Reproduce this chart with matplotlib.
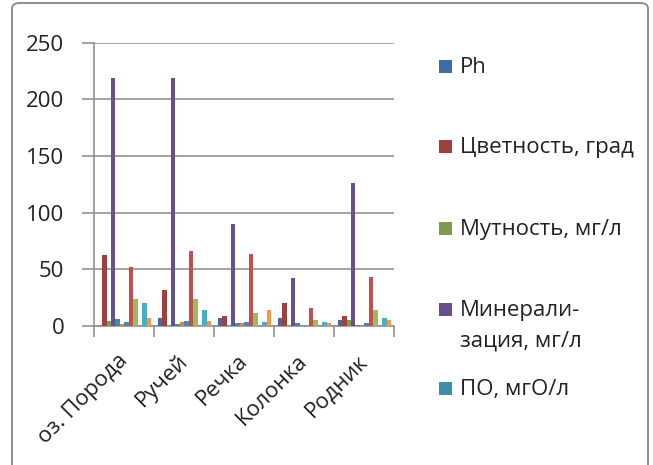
import numpy as np
import matplotlib
matplotlib.use("Agg")
import matplotlib.pyplot as plt
from matplotlib.patches import FancyBboxPatch, Rectangle

plt.rcParams["font.family"] = ["Open Sans", "DejaVu Sans"]

# ── data ──────────────────────────────────────────────────────────────────────
sites = ["оз. Порода", "Ручей", "Речка", "Колонка", "Родник"]

ph          = [0.0, 7.0, 6.8, 7.0, 5.6]
color_deg   = [63, 32, 9.1, 20.6, 8.8]
turbidity   = [4.7, 1.2, 0.0, 0.0, 5.6]
mineral     = [219, 219, 90, 42, 126]
po          = [5.9, 2.0, 2.4, 2.6, 0.6]
series_6    = [2.0, 3.2, 2.4, 0.0, 0.6]
series_7    = [3.5, 4.7, 3.5, 0.0, 2.4]
series_8    = [52, 66, 63.5, 16, 43]
series_9    = [24, 24, 11.5, 5.6, 13.8]
series_10   = [0, 0, 0, 0, 0]
series_11   = [20.5, 13.8, 3.5, 3.5, 6.8]
series_12   = [7.0, 4.7, 13.8, 2.4, 5.6]

legend_labels = ["Ph", "Цветность, град", "Мутность, мг/л",
                 "Минерали-\nзация, мг/л", "ПО, мгО/л"]

series = [ph, color_deg, turbidity, mineral, po, series_6,
          series_7, series_8, series_9, series_10, series_11, series_12]
colors = ["#3d6ba6", "#a13f3e", "#7e9c4b", "#6a4f8d", "#3c8fa8", "#d9823f",
          "#4f81bd", "#c0504d", "#9bbb59", "#8064a2", "#4bacc6", "#f79646"]

# ── figure ────────────────────────────────────────────────────────────────────
W, H = 653, 465
fig = plt.figure(figsize=(W / 100, H / 100), dpi=100)

def fx(px): return px / W
def fy(py): return 1 - py / H

# chart border
fig.patches.append(FancyBboxPatch((fx(12), fy(490)), fx(636), (490 - 3) / H,
                                  boxstyle="round,pad=0,rounding_size=0.012",
                                  transform=fig.transFigure, fill=False,
                                  edgecolor="#8c8c8c", linewidth=1.4))

ax = fig.add_axes([fx(94.3), fy(326), fx(394.3) - fx(94.3), fy(42.7) - fy(326)])

n = len(series)
slot = 1 / (n + 1.5)
x = np.arange(len(sites))
for i, (vals, c) in enumerate(zip(series, colors)):
    off = -0.5 + 0.75 * slot + (i + 0.5) * slot
    ax.bar(x + off, vals, width=slot, color=c, linewidth=0, zorder=3)

ax.set_xlim(-0.5, len(sites) - 0.5)
ax.set_ylim(0, 250)
ax.set_yticks(np.arange(0, 251, 50))
ax.yaxis.grid(True, color="#8a8a8a", linewidth=1.1, zorder=0)
ax.set_axisbelow(True)

for s in ["top", "right"]:
    ax.spines[s].set_visible(False)
for s in ["left", "bottom"]:
    ax.spines[s].set_color("#8a8a8a")
    ax.spines[s].set_linewidth(1.1)

ax.tick_params(axis="y", length=9, width=1.1, color="#8a8a8a", pad=12.5,
               labelsize=16, labelcolor="#222222")
ax.set_xticks(np.arange(-0.5, len(sites)), minor=False)
ax.set_xticklabels([])
ax.tick_params(axis="x", which="major", length=8, width=1.1, color="#8a8a8a")
ax.set_xticks(x, minor=True)
ax.set_xticklabels(sites, minor=True, rotation=45, ha="right", va="center",
                   rotation_mode="anchor", fontsize=16, color="#222222")
ax.tick_params(axis="x", which="minor", length=0, pad=23)

# legend (only the first five series are shown)
baselines = [73, 153, 235, 316, 395]
for i, (lab, base) in enumerate(zip(legend_labels, baselines)):
    fig.patches.append(Rectangle((fx(439), fy(base)), fx(13), 13 / H,
                                 transform=fig.transFigure,
                                 facecolor=colors[i], edgecolor="none"))
    for j, line in enumerate(lab.split("\n")):
        fig.text(fx(460), fy(base + 31 * j), line, fontsize=16,
                 color="#222222", va="baseline", ha="left")

fig.savefig("out.png", dpi=100)
